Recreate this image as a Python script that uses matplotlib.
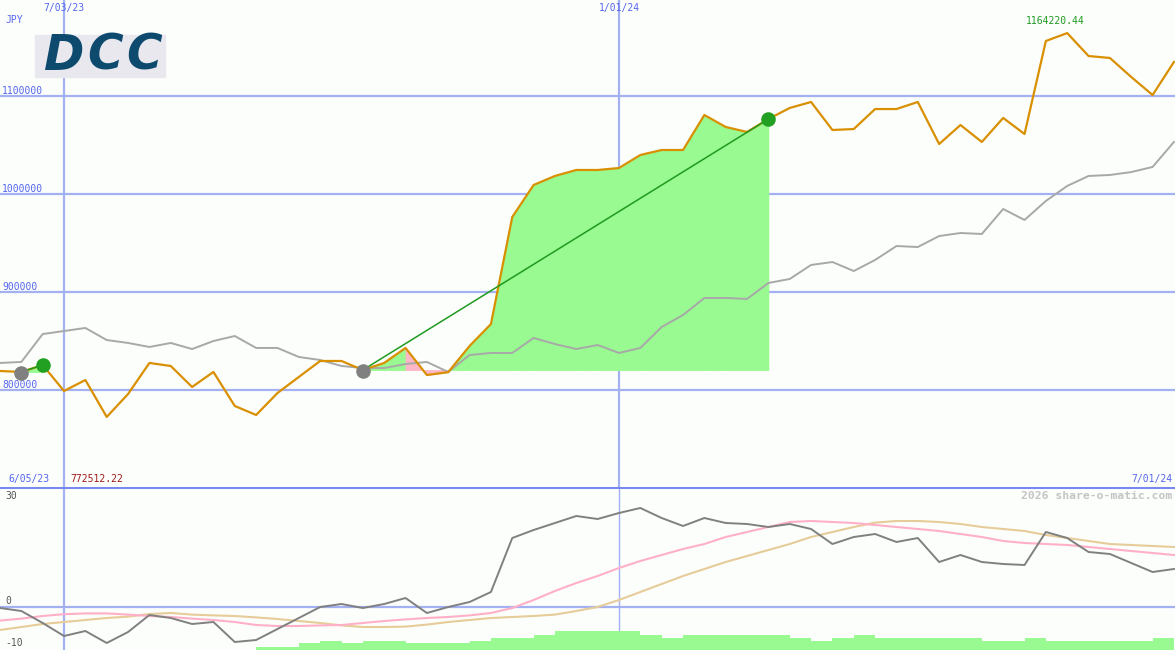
import numpy as np
import pandas as pd
import matplotlib
matplotlib.use("Agg")
import matplotlib.pyplot as plt
from matplotlib.patches import Rectangle

# weekly closes, JPY
weeks = pd.date_range("2023-06-12", periods=56, freq="7D")
price = [819400, 818400, 825500, 799000, 810200, 772512.22, 795900, 827600,
         824500, 803100, 818400, 783700, 774500, 796900, 813300, 829600,
         829600, 820400, 827600, 842900, 815300, 818200, 844900, 867300,
         976500, 1009200, 1018400, 1024500, 1024500, 1026500, 1039800, 1044900,
         1044900, 1080600, 1068400, 1063300, 1076500, 1087800, 1093900, 1065300,
         1066300, 1086700, 1086700, 1093900, 1051000, 1070400, 1053100, 1077600,
         1061200, 1156100, 1164220.44, 1140800, 1138800, 1119400, 1101000, 1134700]
# index line, rescaled to the price axis
index_line = [827600, 828600, 857100, 860200, 863300, 851000, 848000, 843900,
              848000, 841800, 850000, 855100, 842900, 842900, 833700, 830600,
              824500, 822400, 822400, 826500, 828600, 818400, 835700, 837800,
              837800, 853100, 846900, 841800, 845900, 837800, 842900, 864300,
              876500, 893900, 893900, 892900, 909200, 913300, 927600, 930600,
              921400, 932700, 946900, 945900, 957100, 960200, 959200, 984700,
              973500, 992900, 1008200, 1018400, 1019400, 1022400, 1027600, 1053100]
# (buy week, sell week)
trades = [(1, 2), (17, 36)]

# lower panel: relative strength and two averages
rs = [-0.25, -1, -4, -7.25, -6, -9, -6.25, -2, -2.75, -4.25, -3.75, -8.75, -8.25, -5.5,
      -2.75, 0, 0.75, -0.25, 0.75, 2.25, -1.5, 0, 1.25, 3.75, 17.25, 19.25, 21, 22.75,
      22, 23.5, 24.75, 22.25, 20.25, 22.25, 21, 20.75, 20, 20.75, 19.5, 15.75, 17.5,
      18.25, 16.25, 17.25, 11.25, 13, 11.25, 10.75, 10.5, 18.75, 17.25, 13.75, 13.25,
      11, 8.75, 9.5]
rs_fast = [-3.4, -2.9, -2.25, -1.8, -1.6, -1.6, -1.9, -2.25, -2.5, -2.9, -3.25, -3.75,
           -4.5, -4.75, -4.75, -4.6, -4.5, -4.0, -3.5, -3.1, -2.75, -2.5, -2.1, -1.5,
           -0.25, 1.75, 4.0, 6.0, 7.75, 9.75, 11.5, 13, 14.5, 15.75, 17.5, 18.75, 20,
           21.25, 21.5, 21.25, 21, 20.5, 20, 19.5, 19, 18.25, 17.5, 16.5, 16, 15.75,
           15.5, 15, 14.5, 14, 13.5, 13]
rs_slow = [-5.75, -5.0, -4.25, -3.75, -3.25, -2.75, -2.4, -1.75, -1.5, -1.9, -2.1, -2.25,
           -2.6, -3.0, -3.5, -4.0, -4.6, -5.0, -5.0, -4.9, -4.4, -3.75, -3.25, -2.75,
           -2.5, -2.25, -1.9, -1.0, 0, 1.75, 3.75, 5.75, 7.75, 9.5, 11.25, 12.75, 14.25,
           15.75, 17.5, 18.75, 20, 21.1, 21.5, 21.5, 21.25, 20.75, 20, 19.5, 19, 18,
           17.25, 16.5, 15.75, 15.5, 15.25, 15]
bar_start = 12
bar_top = [-9.9, -9.9, -9.1, -8.5, -9.1, -8.5, -8.5, -9.1, -9.1, -9.1, -8.5, -7.7,
           -7.7, -7.0, -6.0, -6.0, -6.0, -6.0, -7.0, -7.7, -7.0, -7.0, -7.0, -7.0,
           -7.0, -7.7, -8.5, -7.7, -7.0, -7.7, -7.7, -7.7, -7.7, -7.7, -8.5, -8.5,
           -7.7, -8.5, -8.5, -8.5, -8.5, -8.5, -7.7]

price_ticks = [800000, 900000, 1000000, 1100000]
marker_dates = ["2023-07-03", "2024-01-01"]


def fmt(d):
    return f"{d.month}/{d.day:02d}/{d:%y}"


bg = "#fcfefc"
grid_c = "#a3b0f2"
label_c = "#5566ee"
mono = "DejaVu Sans Mono"

fig = plt.figure(figsize=(11.75, 6.5), dpi=100, facecolor=bg)
ax = fig.add_axes([0, 163 / 650, 1, 487 / 650], facecolor=bg)
ax2 = fig.add_axes([0, 0, 1, 163 / 650], facecolor=bg)

x = np.arange(len(weeks))
xmax = len(weeks) - 1 + 0.05
for a in (ax, ax2):
    a.set_xlim(0, xmax)
    a.set_axis_off()

ax.set_ylim(800000 - 97 / 98 * 100000, 800000 + 390 / 98 * 100000)
ax2.set_ylim(-10.75, 30)

# grid
for p in price_ticks:
    ax.axhline(p, color=grid_c, lw=1.6, zorder=0)
    ax.text(0.4 / 21.35 * 5, p, f"{p}", color=label_c, fontsize=7, family=mono,
            va="bottom", ha="left")
for md in marker_dates:
    i = weeks.get_loc(pd.Timestamp(md))
    ax.axvline(i, color=grid_c, lw=1.6, zorder=0)
    ax2.axvline(i, color=grid_c, lw=1.0 if i > 10 else 1.6, zorder=0)
    ax.text(i, 1.0 - 8 / 487, fmt(weeks[i]), color=label_c, fontsize=7, family=mono,
            ha="center", va="center", transform=ax.get_xaxis_transform())
ax.text(5 / 1175 * xmax, 1.0 - 20 / 487, "JPY", color=label_c, fontsize=7, family=mono,
        ha="left", va="center", transform=ax.get_xaxis_transform())

# trades: fill between price and entry level, line from entry to exit
price_a = np.array(price)
for b, s in trades:
    base = price_a[b]
    for k in range(b, s):
        col = "#98fa90" if price_a[k + 1] >= base else "#ffb6c6"
        ax.fill_between([k, k + 1], [price_a[k], price_a[k + 1]], base,
                        facecolor=col, edgecolor=col, lw=0.6, zorder=1)

ax.plot(x, index_line, color="#a8a8a8", lw=1.4, zorder=2)
ax.plot(x, price_a, color="#d99000", lw=1.6, zorder=3)
for b, s in trades:
    ax.plot([b, s], [price_a[b], price_a[s]], color="#1f9a1f", lw=1.1, zorder=4)
    ax.scatter([b], [price_a[b] - 1500], s=110, color="#808080", zorder=5, lw=0)
    ax.scatter([s], [price_a[s]], s=110, color="#22a022", zorder=5, lw=0)

imax = int(np.argmax(price_a))
ax.text(imax - 0.55, price_a[imax] + 12000, f"{price_a[imax]:.2f}", color="#1f9a1f",
        fontsize=7, family=mono, ha="center", va="center")

# logo
fig.patches.append(Rectangle((35 / 1175, 1 - 77 / 650), 130 / 1175, 42 / 650,
                             transform=fig.transFigure, color="#e9e8ee", zorder=6))
for cx, ch in [(64, "D"), (105, "C"), (144, "C")]:
    fig.text(cx / 1175, 1 - 56 / 650, ch, color="#0d4a6e", fontsize=35, fontweight="heavy",
             fontstyle="italic", family="DejaVu Sans", ha="center", va="center", zorder=7)

# lower panel
ax2.axhline(0, color=grid_c, lw=1.6, zorder=0)
ax2.axhline(30, color="#7888ee", lw=2.2, zorder=1)
bx = x[bar_start:bar_start + len(bar_top)]
ax2.bar(bx, np.array(bar_top) - (-10.75), bottom=-10.75, width=1.0, align="edge",
        color="#98fa90", lw=0, zorder=1, antialiased=False)
ax2.plot(x, rs_slow, color="#e6cc99", lw=1.5, zorder=2)
ax2.plot(x, rs_fast, color="#ffb0c8", lw=1.5, zorder=2)
ax2.plot(x, rs, color="#808080", lw=1.4, zorder=3)

for v, yy in [("30", 29.0), ("0", 0.2), ("-10", -9.0)]:
    ax2.text(5 / 1175 * xmax, yy, v, color="#555555", fontsize=7, family=mono,
             ha="left", va="bottom" if v == "0" else ("top" if v == "30" else "center"))

fig.text(8 / 1175, 1 - 479 / 650, fmt(weeks[0] - pd.Timedelta(days=7)), color=label_c,
         fontsize=7, family=mono, ha="left", va="center")
fig.text(70 / 1175, 1 - 479 / 650, f"{price_a.min():.2f}", color="#a01818",
         fontsize=7, family=mono, ha="left", va="center")
fig.text(1172 / 1175, 1 - 479 / 650, fmt(weeks[-1]), color=label_c,
         fontsize=7, family=mono, ha="right", va="center")
fig.text(1172 / 1175, 1 - 496 / 650, "2026 share-o-matic.com", color="#c4c4c4",
         fontsize=8.2, family=mono, fontweight="bold", ha="right", va="center")

fig.savefig("out.png", dpi=100, facecolor=bg)
